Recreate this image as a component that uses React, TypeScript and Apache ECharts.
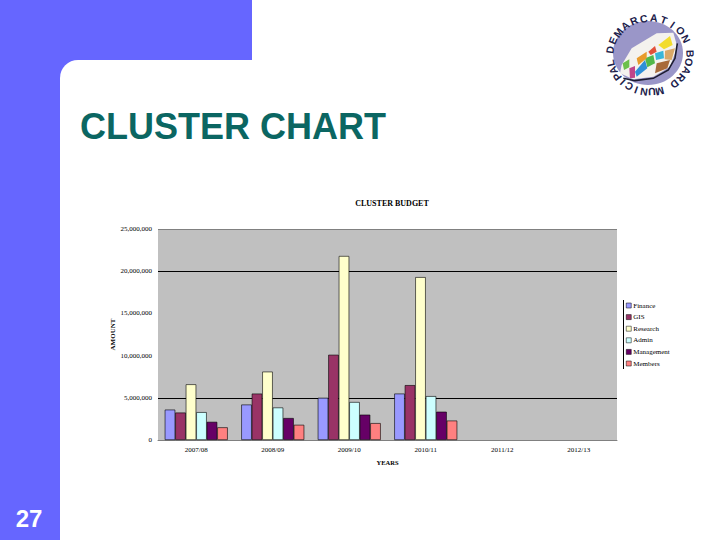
import React, { useEffect, useRef } from "react";
import * as echarts from "echarts";

const categories = ["2007/08", "2008/09", "2009/10", "2010/11", "2011/12", "2012/13"];
const finance = [3600000, 4200000, 5000000, 5500000, null, null];
const gis = [3250000, 5500000, 10100000, 6500000, null, null];
const research = [6600000, 8100000, 21800000, 19300000, null, null];
const admin = [3300000, 3850000, 4500000, 5200000, null, null];
const management = [2150000, 2600000, 3000000, 3350000, null, null];
const members = [1500000, 1800000, 2000000, 2300000, null, null];
const seriesNames = ["Finance", "GIS", "Research", "Admin", "Management", "Members"];
const seriesColors = ["#9999FF", "#993366", "#FFFFCC", "#CCFFFF", "#660066", "#FF8080"];
const seriesValues = [finance, gis, research, admin, management, members];

const smallFont = "Liberation Serif";
const logoCx = 650;
const logoCy = 55;

const logoWords: [string, number, number][] = [
  ["DEMARCATION", -82, 14.6],
  ["BOARD", 88, 13.5],
  ["MUNICIPAL", 166, 11.4],
];

const z3 = (pts: number[][]) => pts.map(([x, y]) => [590 + x / 3, 10 + y / 3]);

const logoPatches: [string, number[][]][] = [
  ["#f4f2ee", [[95, 165], [125, 115], [200, 70], [250, 68], [262, 110], [240, 170], [190, 200], [130, 208], [90, 190]]],
  ["#f2dc2c", [[205, 105], [240, 78], [248, 105], [222, 118]]],
  ["#e2503a", [[175, 125], [195, 108], [200, 125], [182, 135]]],
  ["#39b6d8", [[195, 130], [220, 122], [222, 145], [198, 150]]],
  ["#d9a868", [[225, 122], [255, 115], [245, 150], [224, 148]]],
  ["#2f8fd8", [[135, 185], [165, 150], [172, 175], [140, 200]]],
  ["#52b84a", [[165, 145], [190, 135], [195, 160], [172, 172]]],
  ["#e89a2a", [[140, 145], [170, 125], [170, 145], [145, 165]]],
  ["#a86a3a", [[200, 160], [240, 150], [232, 175], [195, 190]]],
  ["#c0458a", [[118, 175], [135, 168], [135, 203], [120, 205]]],
  ["#6cc04a", [[98, 160], [118, 148], [118, 172], [102, 180]]],
];

function buildLogo(): any[] {
  const els: any[] = [
    { type: "ellipse", z: 5, shape: { cx: 648, cy: 53, rx: 35, ry: 32 }, style: { fill: "#9a96c8" } },
  ];
  logoPatches.forEach(([fill, pts]) => {
    els.push({ type: "polygon", z: 6, shape: { points: z3(pts) }, style: { fill } });
  });
  els.push({
    type: "polyline",
    z: 7,
    shape: { points: z3([[262, 100], [255, 145], [235, 180], [190, 205], [135, 212], [100, 205]]) },
    style: { stroke: "#1c1c30", lineWidth: 1.6, fill: "none" },
  });
  logoWords.forEach(([word, start, step]) => {
    word.split("").forEach((ch, i) => {
      const deg = start + step * i;
      const a = (deg * Math.PI) / 180;
      els.push({
        type: "text",
        z: 8,
        x: logoCx + 40 * Math.sin(a),
        y: logoCy - 37 * Math.cos(a),
        rotation: -a,
        style: {
          text: ch,
          fill: "#20204a",
          font: "bold 10.5px 'Liberation Sans'",
          align: "center",
          verticalAlign: "middle",
        },
      });
    });
  });
  return els;
}

export default function App() {
  const ref = useRef<HTMLDivElement>(null);
  useEffect(() => {
    document.body.style.margin = "0";
    const chart = echarts.init(ref.current!, null, { renderer: "svg" });
    chart.setOption({
      animation: false,
      backgroundColor: "#ffffff",
      title: {
        text: "CLUSTER BUDGET",
        left: 387,
        top: 194,
        textAlign: "center",
        textStyle: { fontFamily: smallFont, fontSize: 8, fontWeight: "bold", color: "#000" },
      },
      grid: { left: 158, right: 103, top: 229, bottom: 100, backgroundColor: "#C0C0C0", show: true, borderWidth: 0 },
      legend: {
        orient: "vertical",
        left: 626,
        top: 302,
        itemWidth: 5,
        itemHeight: 5,
        itemGap: 4.6,
        padding: 0,
        icon: "rect",
        data: seriesNames,
        itemStyle: { borderColor: "#000", borderWidth: 0.5 },
        textStyle: { fontFamily: smallFont, fontSize: 7, color: "#000", padding: [0, 0, 0, -3] },
      },
      xAxis: {
        type: "category",
        data: categories,
        name: "YEARS",
        nameLocation: "middle",
        nameGap: 19,
        nameMoveOverlap: false,
        nameTextStyle: { fontFamily: smallFont, fontSize: 6.5, fontWeight: "bold", color: "#000" },
        axisLine: { lineStyle: { color: "#808080", width: 1 } },
        axisTick: { show: false },
        axisLabel: { fontFamily: smallFont, fontSize: 7, color: "#000", margin: 6, interval: 0 },
      },
      yAxis: {
        type: "value",
        min: 0,
        max: 25000000,
        interval: 5000000,
        name: "AMOUNT",
        nameLocation: "middle",
        nameRotate: 90,
        nameGap: 42,
        nameMoveOverlap: false,
        nameTextStyle: { fontFamily: smallFont, fontSize: 7, fontWeight: "bold", color: "#000" },
        axisLine: { show: false },
        axisTick: { show: false },
        splitLine: {
          show: true,
          lineStyle: {
            width: 1,
            color: ["#808080", "#000000", "rgba(0,0,0,0)", "rgba(0,0,0,0)", "#000000", "#808080"],
          },
        },
        axisLabel: {
          fontFamily: smallFont,
          fontSize: 7,
          color: "#000",
          margin: 6,
          formatter: (v: number) => v.toLocaleString("en-US"),
        },
      },
      series: seriesNames.map((name, i) => ({
        name,
        type: "bar",
        data: seriesValues[i],
        barWidth: 10.5,
        barGap: 0,
        itemStyle: { color: seriesColors[i], borderColor: "#000", borderWidth: 0.6 },
      })),
      graphic: [
        { type: "rect", z: -10, silent: true, shape: { x: 0, y: 0, width: 252, height: 80 }, style: { fill: "#6666FF" } },
        { type: "rect", z: -10, silent: true, shape: { x: 0, y: 0, width: 60, height: 540 }, style: { fill: "#6666FF" } },
        { type: "rect", z: -9, silent: true, shape: { x: 60, y: 60, width: 660, height: 480, r: [18, 0, 0, 0] }, style: { fill: "#ffffff" } },
        { type: "text", z: 5, x: 80, y: 126, style: { text: "CLUSTER CHART", fill: "#0B6662", font: "bold 36px 'Liberation Sans'", align: "left", verticalAlign: "middle" } },
        { type: "text", z: 5, x: 29, y: 518, style: { text: "27", fill: "#ffffff", font: "bold 24px 'Liberation Sans'", align: "center", verticalAlign: "middle" } },
        { type: "line", z: 5, shape: { x1: 623.5, y1: 300, x2: 623.5, y2: 369 }, style: { stroke: "#000", lineWidth: 1 } },
        ...buildLogo(),
      ],
    });
    return () => chart.dispose();
  }, []);
  return <div ref={ref} style={{ width: 720, height: 540 }} />;
}
